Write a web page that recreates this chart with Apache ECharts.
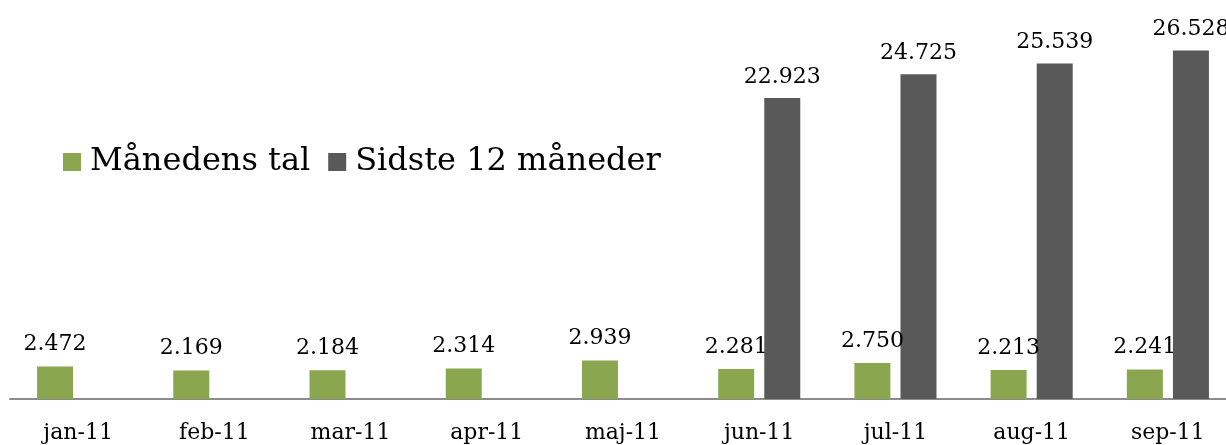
<!DOCTYPE html>
<html>
<head>
<meta charset="utf-8">
<script src="https://cdn.jsdelivr.net/npm/echarts@6/dist/echarts.min.js"></script>
<style>
  html, body { margin: 0; padding: 0; background: #fff; overflow: hidden; }
  /* wider than the window: the original is cropped at its right edge */
  #container { width: 1240px; height: 445px; }
</style>
</head>
<body>
<div id="container"></div>
<script>
var months = ["jan-11", "feb-11", "mar-11", "apr-11", "maj-11", "jun-11", "jul-11", "aug-11", "sep-11"];
var monthly = [2472, 2169, 2184, 2314, 2939, 2281, 2750, 2213, 2241];
var last12 = [null, null, null, null, null, 22923, 24725, 25539, 26528];

var serif = "DejaVu Serif";

// Danish style thousands separator
function fmt(p) {
  return String(p.value).replace(/\B(?=(\d{3})+(?!\d))/g, ".");
}

var dom = document.getElementById("container");
var myChart = echarts.init(dom, null, { renderer: "canvas" });

var option = {
  animation: false,
  legend: {
    left: 58,
    top: 141,
    itemWidth: 18,
    itemHeight: 18,
    itemGap: 18,
    icon: "rect",
    textStyle: { fontFamily: serif, fontSize: 32, color: "#000", padding: [0, 0, 0, 4] },
    data: ["Månedens tal", "Sidste 12 måneder"]
  },
  grid: { left: 10, right: 4, top: 5, bottom: 46 },
  xAxis: {
    type: "category",
    data: months,
    axisLine: { lineStyle: { color: "#8c8c8c", width: 2 } },
    axisTick: { show: false },
    axisLabel: { margin: 23, color: "#000", fontFamily: serif, fontSize: 22 }
  },
  yAxis: {
    type: "value",
    min: 0,
    max: 30000,
    show: false,
    splitLine: { show: false }
  },
  series: [
    {
      name: "Månedens tal",
      type: "bar",
      data: monthly,
      barWidth: 36,
      barGap: "28%",
      itemStyle: { color: "#8aa64f" },
      label: {
        show: true,
        position: "top",
        distance: 11,
        formatter: fmt,
        color: "#000",
        fontFamily: serif,
        fontSize: 22
      }
    },
    {
      name: "Sidste 12 måneder",
      type: "bar",
      data: last12,
      barWidth: 36,
      itemStyle: { color: "#595959" },
      label: {
        show: true,
        position: "top",
        distance: 10,
        formatter: fmt,
        color: "#000",
        fontFamily: serif,
        fontSize: 22
      }
    }
  ]
};

myChart.setOption(option);
window.addEventListener("resize", myChart.resize);
</script>
</body>
</html>
